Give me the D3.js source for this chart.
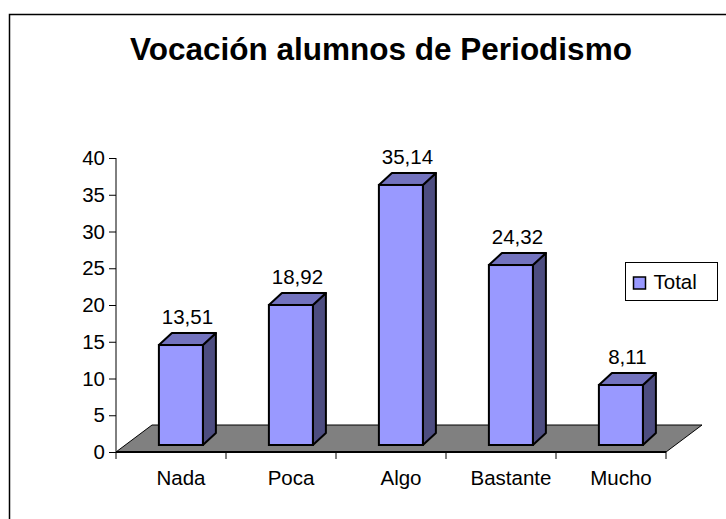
<!DOCTYPE html>
<html>
<head>
<meta charset="utf-8">
<script src="https://cdn.jsdelivr.net/npm/d3@7"></script>
<style>
  body { margin: 0; background: #fff; }
  svg { display: block; font-family: "Liberation Sans", Arial, sans-serif; }
</style>
</head>
<body>
<div id="chart"></div>
<script>
const categories = ["Nada", "Poca", "Algo", "Bastante", "Mucho"]
const values = [13.51, 18.92, 35.14, 24.32, 8.11]
const yTicks = [0, 5, 10, 15, 20, 25, 30, 35, 40]
const seriesName = "Total"
const title = "Vocación alumnos de Periodismo"

const width = 726
const height = 519
const fontSize = 20.5

// oblique offsets for the fake 3D look
const floorDx = 36, floorDy = -27
const barDx = 13, barDy = -12

const svg = d3.select("#chart")
  .append("svg")
  .attr("width", width)
  .attr("height", height)

// chart border (runs off the right and bottom edge)
svg.append("rect")
  .attr("x", 9.5).attr("y", 14.5)
  .attr("width", 800).attr("height", 600)
  .attr("fill", "none")
  .attr("stroke", "#000")
  .attr("stroke-width", 1.5)

svg.append("text")
  .attr("x", 381).attr("y", 60)
  .attr("text-anchor", "middle")
  .attr("font-size", 31.5)
  .attr("font-weight", "bold")
  .text(title)

const x = d3.scaleBand()
  .domain(categories)
  .range([116, 666])
  .padding(0)

const y = d3.scaleLinear().domain([0, 40]).range([452, 158])
// bars stand a bit deeper on the floor
const yBar = d3.scaleLinear().domain([0, 40]).range([445, 149])

// floor
const fx0 = x.range()[0], fx1 = x.range()[1], fy = y(0)
svg.append("path")
  .attr("d", `M${fx0},${fy} L${fx1},${fy} L${fx1 + floorDx},${fy + floorDy} L${fx0 + floorDx},${fy + floorDy} Z`)
  .attr("fill", "#808080")
  .attr("stroke", "#000")
  .attr("stroke-width", 1)

// y axis
const yAxis = d3.axisLeft(y)
  .tickValues(yTicks)
  .tickSize(7)
  .tickPadding(4)
  .tickFormat(d3.format("d"))

const gy = svg.append("g")
  .attr("transform", `translate(${fx0},0)`)
  .call(yAxis)
gy.select(".domain").attr("stroke", "#000").attr("d", `M0,${y(0)}V${y(40)}`)
gy.selectAll(".tick line").attr("stroke", "#000")
gy.selectAll(".tick text")
  .attr("font-size", fontSize)
  .attr("font-family", "Liberation Sans, Arial, sans-serif")
  .attr("fill", "#000")

// x axis: ticks at band boundaries
const gx = svg.append("g")
  .attr("transform", `translate(0,${y(0)})`)
gx.append("line")
  .attr("x1", fx0).attr("x2", fx1)
  .attr("stroke", "#000").attr("stroke-width", 2)
gx.selectAll(".xtick")
  .data(categories.concat(["end"]))
  .join("line")
  .attr("class", "xtick")
  .attr("x1", (d, i) => i < categories.length ? x(d) : fx1)
  .attr("x2", (d, i) => i < categories.length ? x(d) : fx1)
  .attr("y1", 0).attr("y2", 7)
  .attr("stroke", "#000")
gx.selectAll(".xlabel")
  .data(categories)
  .join("text")
  .attr("class", "xlabel")
  .attr("x", d => x(d) + x.bandwidth() / 2 + 10)
  .attr("y", 33)
  .attr("text-anchor", "middle")
  .attr("font-size", fontSize)
  .text(d => d)

// bars
const barW = x.bandwidth() * 0.4
const barOff = x.bandwidth() * 0.39
const bars = svg.append("g")
  .selectAll("g")
  .data(categories.map((c, i) => ({ cat: c, value: values[i] })))
  .join("g")

const barLeft = d => x(d.cat) + barOff
const barTop = d => yBar(d.value)
const base = yBar(0)

bars.append("path") // side
  .attr("d", d => `M${barLeft(d) + barW},${barTop(d)} L${barLeft(d) + barW + barDx},${barTop(d) + barDy} L${barLeft(d) + barW + barDx},${base + barDy} L${barLeft(d) + barW},${base} Z`)
  .attr("fill", "#4d4d80")
  .attr("stroke", "#000").attr("stroke-width", 2).attr("stroke-linejoin", "round")

bars.append("path") // top
  .attr("d", d => `M${barLeft(d)},${barTop(d)} L${barLeft(d) + barDx},${barTop(d) + barDy} L${barLeft(d) + barW + barDx},${barTop(d) + barDy} L${barLeft(d) + barW},${barTop(d)} Z`)
  .attr("fill", "#7373bf")
  .attr("stroke", "#000").attr("stroke-width", 2).attr("stroke-linejoin", "round")

bars.append("rect") // front
  .attr("x", barLeft)
  .attr("y", barTop)
  .attr("width", barW)
  .attr("height", d => base - barTop(d))
  .attr("fill", "#9999ff")
  .attr("stroke", "#000").attr("stroke-width", 2)

bars.append("text")
  .attr("x", d => barLeft(d) + barW / 2 + barDx / 2)
  .attr("y", d => barTop(d) - 21)
  .attr("text-anchor", "middle")
  .attr("font-size", fontSize)
  .text(d => d3.format(".2f")(d.value).replace(".", ","))

// legend
const legend = svg.append("g").attr("transform", "translate(625.5,262.5)")
legend.append("rect")
  .attr("width", 92).attr("height", 38)
  .attr("fill", "#fff").attr("stroke", "#000")
legend.append("rect")
  .attr("x", 8).attr("y", 14.5)
  .attr("width", 12).attr("height", 12)
  .attr("fill", "#9999ff").attr("stroke", "#000").attr("stroke-width", 1.5)
legend.append("text")
  .attr("x", 28).attr("y", 26.5)
  .attr("font-size", fontSize)
  .text(seriesName)
</script>
</body>
</html>
